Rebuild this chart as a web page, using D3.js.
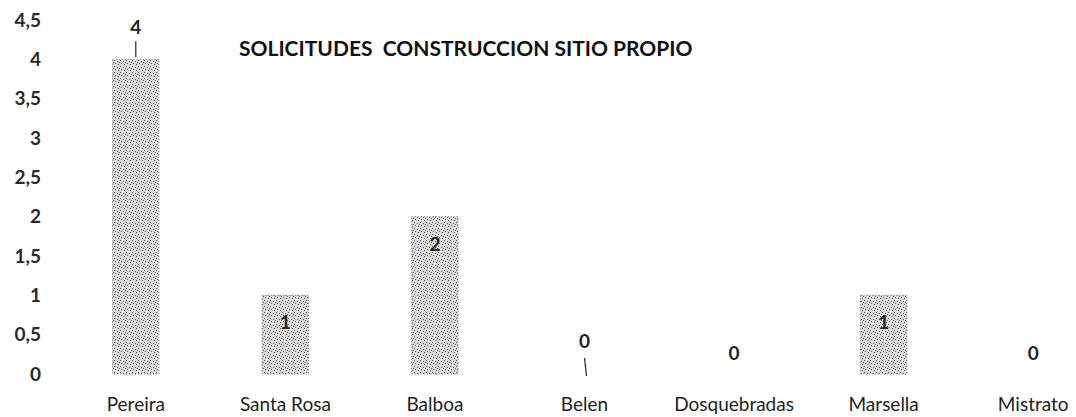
<!DOCTYPE html>
<html><head><meta charset="utf-8">
<script src="https://cdn.jsdelivr.net/npm/d3@7"></script>
<style>body{margin:0;background:#fff}svg{display:block}</style>
</head><body>
<script>
const categories = ["Pereira","Santa Rosa","Balboa","Belen","Dosquebradas","Marsella","Mistrato"];
const values = [4,1,2,0,0,1,0];
const yTicks = [0,0.5,1,1.5,2,2.5,3,3.5,4,4.5];
const title = "SOLICITUDES  CONSTRUCCION SITIO PROPIO";

const W = 1076, H = 417;
const svg = d3.select("body").append("svg").attr("width", W).attr("height", H);

const defs = svg.append("defs");
const pat = defs.append("pattern").attr("id","stip").attr("width",6).attr("height",6).attr("patternUnits","userSpaceOnUse");
pat.append("rect").attr("width",6).attr("height",6).attr("fill","#d9d9d9");
[[0,0],[3,1],[1,3],[4,4],[5,2]].forEach(([x,y])=>pat.append("rect").attr("x",x).attr("y",y).attr("width",1).attr("height",1).attr("fill","#5a5a5a"));

const x = d3.scaleBand().domain(categories).range([61,1108]).paddingInner(0.69).paddingOuter(0.345);
const y = d3.scaleLinear().domain([0,4.5]).range([374,20]);

const font = "Lato, 'Open Sans', sans-serif";

// y axis labels
const yAxis = d3.axisLeft(y).tickValues(yTicks).tickSize(0).tickPadding(0)
  .tickFormat(d => String(d).replace(".", ","));
const ga = svg.append("g").attr("transform","translate(41,0)").call(yAxis);
ga.select(".domain").remove();
ga.selectAll("text").attr("font-family",font).attr("font-size",19).attr("font-weight",700).attr("fill","#2a2a2a");

// bars
svg.selectAll("rect.bar").data(values).join("rect").attr("class","bar")
  .attr("x",(d,i)=>x(categories[i])).attr("width",x.bandwidth())
  .attr("y",d=>y(d)).attr("height",d=>y(0)-y(d))
  .attr("fill","url(#stip)").attr("stroke","#777").attr("stroke-width",1).attr("stroke-dasharray","1,2");

// value labels
values.forEach((v,i)=>{
  const cx = x(categories[i]) + x.bandwidth()/2;
  let ty, lead = null;
  if (v >= 3) { ty = y(v) - 25; lead = [y(v)-18, y(v)-2]; }
  else if (v > 0) { ty = y(v) + 34; }
  else { ty = y(0) - 14 - (i===3 ? 12 : 0); if (i===3) lead = [y(0)-16, y(0)+2]; }
  svg.append("text").attr("x",cx).attr("y",ty).attr("text-anchor","middle")
    .attr("font-family",font).attr("font-size",19).attr("font-weight",700).attr("fill","#222").text(v);
  if (lead) svg.append("line").attr("x1",cx).attr("x2",cx + (i===3?2:0)).attr("y1",lead[0]).attr("y2",lead[1]).attr("stroke","#333").attr("stroke-width",1.3);
});

// category labels
const xAxis = d3.axisBottom(x).tickSize(0).tickPadding(0);
const gx = svg.append("g").attr("transform","translate(0,397)").call(xAxis);
gx.select(".domain").remove();
gx.selectAll("text").attr("font-family",font).attr("font-size",19).attr("fill","#222");

// title
svg.append("text").attr("x",239).attr("y",56).attr("font-family",font).attr("font-size",21).attr("font-weight",700)
  .attr("fill","#111").style("white-space","pre").text(title);
</script>
</body></html>
